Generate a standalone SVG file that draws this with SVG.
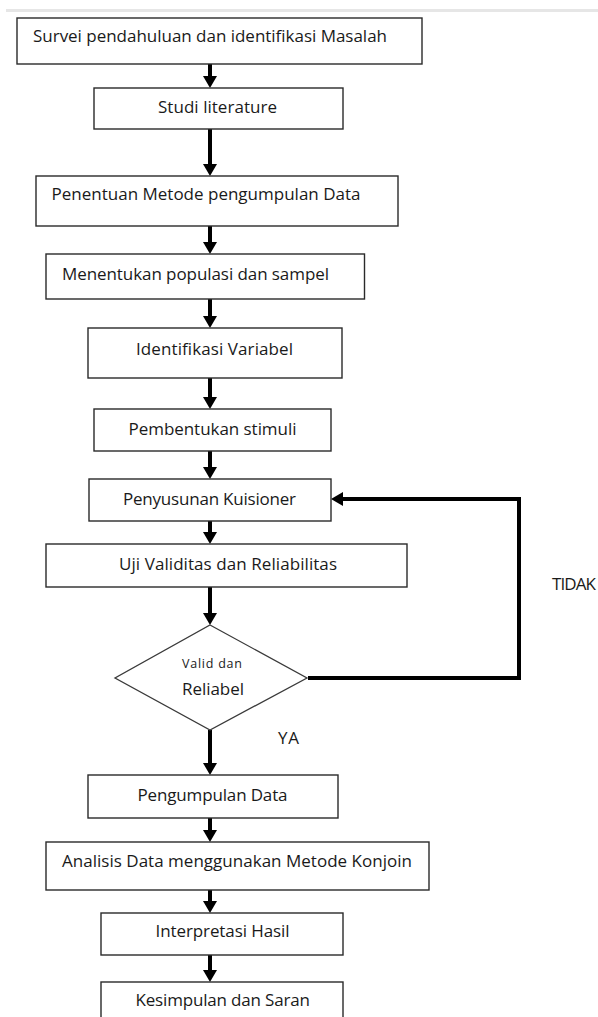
<svg xmlns="http://www.w3.org/2000/svg" width="598" height="1017" viewBox="0 0 598 1017">
<style>
.box{fill:#fff;stroke:#2a2a2a;stroke-width:1.4}
.dia{fill:#fff;stroke:#3a3a3a;stroke-width:1.3}
.t{font-family:"Open Sans","Noto Sans","Liberation Sans",sans-serif;font-size:17px;fill:#1a1a1a}
.s{font-size:12.5px}
.con{fill:none;stroke:#000;stroke-width:4}
</style>
<defs>
<marker id="ah" viewBox="0 0 12 14" markerWidth="12" markerHeight="14" refX="2" refY="7" orient="auto" markerUnits="userSpaceOnUse">
<path d="M0,0 L12,7 L0,14 z" fill="#000"/>
</marker>
</defs>
<rect x="6" y="9" width="592" height="3" fill="#e6e6e6"/>
<g id="connectors">
<line class="con" x1="210" y1="64" x2="210" y2="78" marker-end="url(#ah)"/>
<line class="con" x1="210" y1="129" x2="210" y2="166" marker-end="url(#ah)"/>
<line class="con" x1="210" y1="226" x2="210" y2="244" marker-end="url(#ah)"/>
<line class="con" x1="210" y1="299" x2="210" y2="318" marker-end="url(#ah)"/>
<line class="con" x1="210" y1="378" x2="210" y2="399" marker-end="url(#ah)"/>
<line class="con" x1="210" y1="451" x2="210" y2="469" marker-end="url(#ah)"/>
<line class="con" x1="210" y1="521" x2="210" y2="534" marker-end="url(#ah)"/>
<line class="con" x1="210" y1="587" x2="210" y2="615" marker-end="url(#ah)"/>
<line class="con" x1="210" y1="730" x2="210" y2="765" marker-end="url(#ah)"/>
<line class="con" x1="210" y1="818" x2="210" y2="832" marker-end="url(#ah)"/>
<line class="con" x1="210" y1="890" x2="210" y2="903" marker-end="url(#ah)"/>
<line class="con" x1="210" y1="955" x2="210" y2="972" marker-end="url(#ah)"/>
<polyline class="con" points="308,678 519,678 519,499 341,499" marker-end="url(#ah)"/>
<text class="t" x="278" y="744" textLength="21">YA</text>
<text class="t" x="552" y="590" textLength="44">TIDAK</text>
</g>
<g id="n1"><rect class="box" x="17" y="18" width="405" height="46"/><text class="t" x="33" y="42" textLength="354">Survei pendahuluan dan identifikasi Masalah</text></g>
<g id="n2"><rect class="box" x="94" y="88" width="249" height="41"/><text class="t" x="158" y="113" textLength="119">Studi literature</text></g>
<g id="n3"><rect class="box" x="36" y="176" width="362" height="50"/><text class="t" x="51.5" y="200" textLength="309">Penentuan Metode pengumpulan Data</text></g>
<g id="n4"><rect class="box" x="46" y="254" width="318.5" height="45"/><text class="t" x="62" y="280" textLength="267">Menentukan populasi dan sampel</text></g>
<g id="n5"><rect class="box" x="88" y="328" width="254" height="50"/><text class="t" x="136" y="355" textLength="157">Identifikasi Variabel</text></g>
<g id="n6"><rect class="box" x="94" y="409" width="237" height="42"/><text class="t" x="128.5" y="435" textLength="168">Pembentukan stimuli</text></g>
<g id="n7"><rect class="box" x="89" y="479" width="242" height="42"/><text class="t" x="123" y="505" textLength="173">Penyusunan Kuisioner</text></g>
<g id="n8"><rect class="box" x="46" y="544" width="361" height="43"/><text class="t" x="119" y="570" textLength="218">Uji Validitas dan Reliabilitas</text></g>
<g id="d1"><polygon class="dia" points="210,625 307,678 210,730 115,678"/><text class="t s" x="182" y="668" textLength="60">Valid dan</text><text class="t" x="182" y="695" textLength="62">Reliabel</text></g>
<g id="n9"><rect class="box" x="88" y="775" width="250" height="43"/><text class="t" x="137.5" y="801" textLength="150">Pengumpulan Data</text></g>
<g id="n10"><rect class="box" x="46" y="842" width="383" height="48"/><text class="t" x="62" y="867" textLength="350">Analisis Data menggunakan Metode Konjoin</text></g>
<g id="n11"><rect class="box" x="101" y="913" width="242" height="42"/><text class="t" x="155.5" y="937" textLength="134">Interpretasi Hasil</text></g>
<g id="n12"><rect class="box" x="101" y="982" width="242" height="40"/><text class="t" x="135.5" y="1006" textLength="174.5">Kesimpulan dan Saran</text></g>
</svg>
